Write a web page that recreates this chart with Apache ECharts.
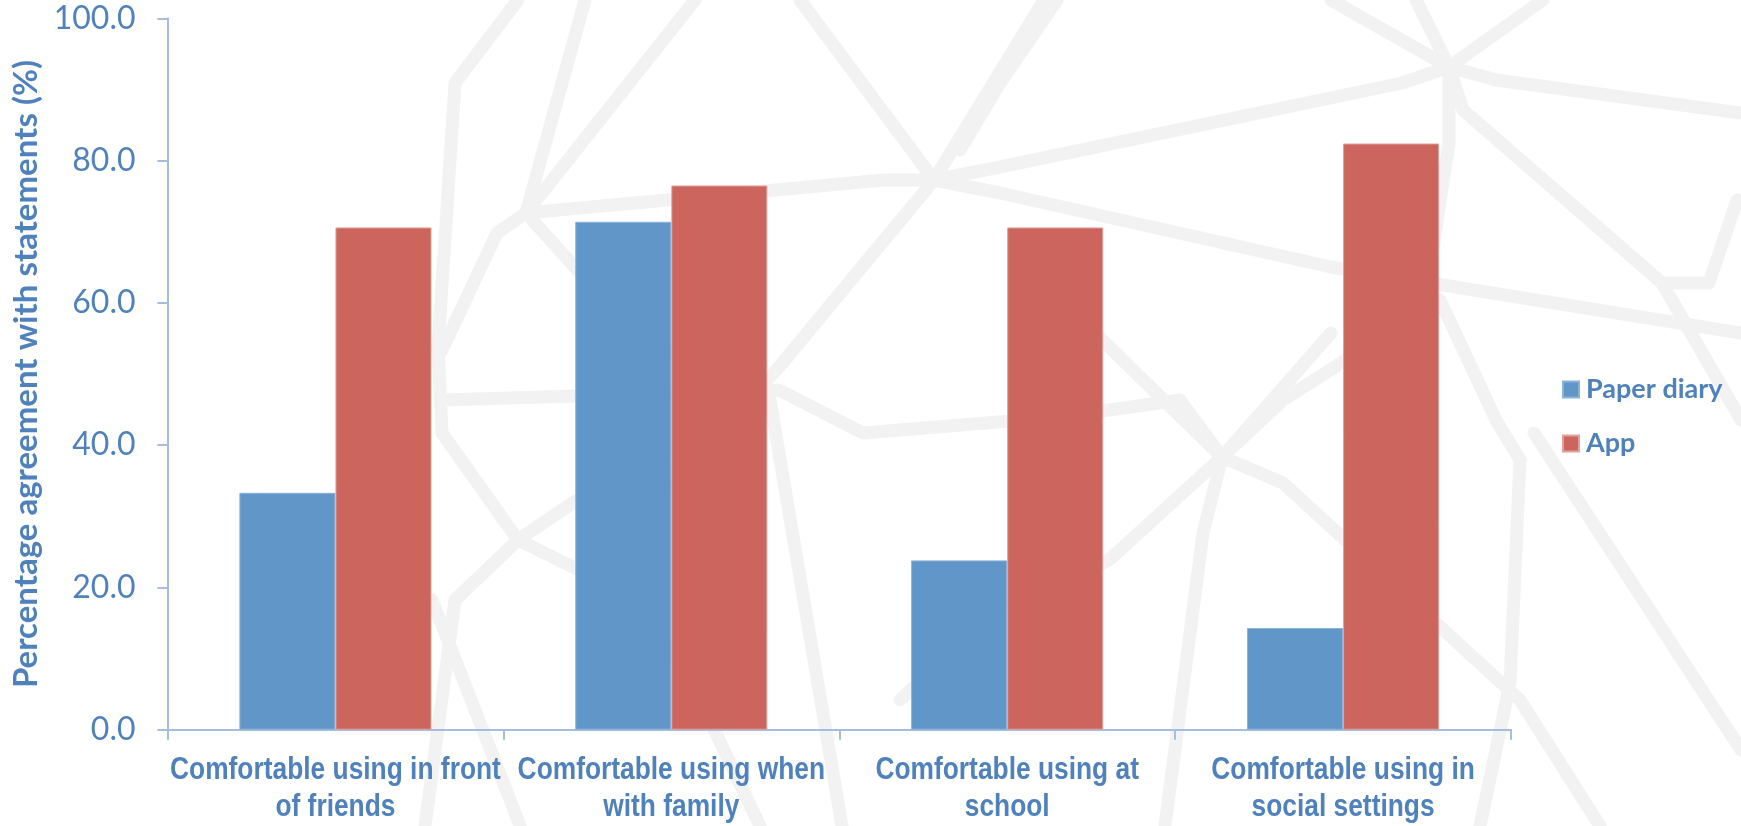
<!DOCTYPE html>
<html>
<head>
<meta charset="utf-8">
<title>Comfort using paper diary vs app</title>
<script src="https://cdn.jsdelivr.net/npm/echarts@6/dist/echarts.min.js"></script>
<style>
  html, body { margin: 0; padding: 0; background: #ffffff; }
  #chart { width: 1741px; height: 826px; }
</style>
</head>
<body>
<div id="chart"></div>
<script>
// Statements shown on the category axis
var categories = [
  'Comfortable using in front\nof friends',
  'Comfortable using when\nwith family',
  'Comfortable using at\nschool',
  'Comfortable using in\nsocial settings'
];

// Percentage agreeing with each statement
var paperDiary = [33.3, 71.4, 23.8, 14.3];
var app = [70.6, 76.5, 70.6, 82.4];

var seriesNames = ['Paper diary', 'App'];
var yTicks = { min: 0, max: 100, interval: 20 };

var TEXT_BLUE = '#4F81BD';
var AXIS_BLUE = '#A7BCE0';
var NET = '#F2F2F2';

// Faint network pattern drawn behind the plot
var netLines = [
  [[518, 0], [455, 83], [438, 347], [442, 433], [518, 540], [455, 600], [425, 826]],
  [[585, 0], [526, 213]],
  [[695, 0], [526, 213]],
  [[526, 213], [497, 233], [442, 350]],
  [[526, 213], [884, 180], [934, 180]],
  [[526, 213], [589, 283], [680, 360]],
  [[800, 0], [934, 180], [1044, 0]],
  [[934, 180], [1000, 167], [1402, 83], [1449, 67]],
  [[934, 180], [1000, 193], [1331, 267], [1741, 333]],
  [[934, 180], [779, 367], [640, 520], [577, 500], [518, 540]],
  [[442, 400], [779, 390], [863, 433], [1060, 417], [1180, 400], [1222, 457]],
  [[770, 400], [842, 826]],
  [[1331, 0], [1449, 67], [1416, 0]],
  [[1449, 67], [1543, 0]],
  [[1449, 67], [1496, 80], [1741, 113]],
  [[1449, 67], [1449, 143], [1425, 300]],
  [[1449, 67], [1463, 110], [1662, 283], [1741, 420]],
  [[1057, 0], [1000, 83], [960, 150]],
  [[1095, 333], [1222, 457], [1331, 333]],
  [[1222, 457], [1283, 400], [1440, 300], [1496, 420], [1520, 460]],
  [[1222, 457], [1203, 533], [1165, 826]],
  [[1222, 457], [1109, 560], [1000, 607], [900, 700]],
  [[1222, 457], [1283, 483], [1520, 700], [1600, 826]],
  [[1534, 433], [1741, 750]],
  [[1520, 460], [1510, 683], [1480, 826]],
  [[1737, 200], [1709, 283], [1662, 283]],
  [[432, 600], [509, 797], [520, 826]],
  [[518, 540], [640, 600], [700, 700], [760, 826]]
];

var netGraphics = netLines.map(function (pts, i) {
  return {
    type: 'polyline',
    id: 'net' + i,
    silent: true,
    z: -10,
    shape: { points: pts },
    style: { stroke: NET, lineWidth: 13, fill: null, lineJoin: 'round', lineCap: 'round' }
  };
});

var chart = echarts.init(document.getElementById('chart'), null, { renderer: 'canvas' });

chart.setOption({
  backgroundColor: '#ffffff',
  animation: false,
  grid: { left: 167.5, right: 230, top: 18.3, bottom: 96.3 },
  legend: {
    orient: 'vertical',
    left: 1562,
    top: 376,
    padding: 0,
    itemWidth: 16,
    itemHeight: 16,
    itemGap: 27,
    icon: 'rect',
    data: seriesNames,
    textStyle: {
      color: TEXT_BLUE,
      fontFamily: 'Lato',
      fontWeight: 'bold',
      fontSize: 27,
      padding: [0, 0, 0, 2]
    }
  },
  xAxis: {
    type: 'category',
    data: categories,
    axisLine: { lineStyle: { color: AXIS_BLUE, width: 2 } },
    axisTick: { show: true, length: 10, lineStyle: { color: AXIS_BLUE, width: 2 } },
    axisLabel: { show: false }
  },
  yAxis: {
    type: 'value',
    min: yTicks.min,
    max: yTicks.max,
    interval: yTicks.interval,
    name: 'Percentage agreement with statements (%)',
    nameLocation: 'middle',
    nameGap: 120,
    nameTextStyle: {
      color: TEXT_BLUE,
      fontFamily: 'Lato',
      fontWeight: 'bold',
      fontSize: 33
    },
    splitLine: { show: false },
    axisLine: { show: true, lineStyle: { color: AXIS_BLUE, width: 2 } },
    axisTick: { show: true, length: 10, lineStyle: { color: AXIS_BLUE, width: 2 } },
    axisLabel: {
      color: TEXT_BLUE,
      fontFamily: 'Lato',
      fontSize: 32,
      margin: 32,
      formatter: function (v) { return v.toFixed(1); }
    }
  },
  series: [
    {
      name: seriesNames[0],
      type: 'bar',
      data: paperDiary,
      barGap: '0%',
      barCategoryGap: '42.8%',
      itemStyle: { color: '#6196C9', borderColor: '#8DB2DA', borderWidth: 1 }
    },
    {
      name: seriesNames[1],
      type: 'bar',
      data: app,
      itemStyle: { color: '#CB655E', borderColor: '#E3A19C', borderWidth: 1 }
    }
  ]
});

// Category labels in a condensed bold face, centred under each category
var labelY = chart.convertToPixel({ yAxisIndex: 0 }, yTicks.min) + 59;
var labelGraphics = categories.map(function (cat, i) {
  var cx = chart.convertToPixel({ xAxisIndex: 0 }, i);
  return {
    type: 'text',
    id: 'cat' + i,
    silent: true,
    x: cx,
    y: labelY,
    scaleX: 0.85,
    style: {
      text: cat,
      x: 0,
      y: 0,
      align: 'center',
      verticalAlign: 'middle',
      fill: TEXT_BLUE,
      fontFamily: '"Liberation Sans", Arial, sans-serif',
      fontWeight: 'bold',
      fontSize: 31,
      lineHeight: 37
    }
  };
});

chart.setOption({ graphic: netGraphics.concat(labelGraphics) });
</script>
</body>
</html>
